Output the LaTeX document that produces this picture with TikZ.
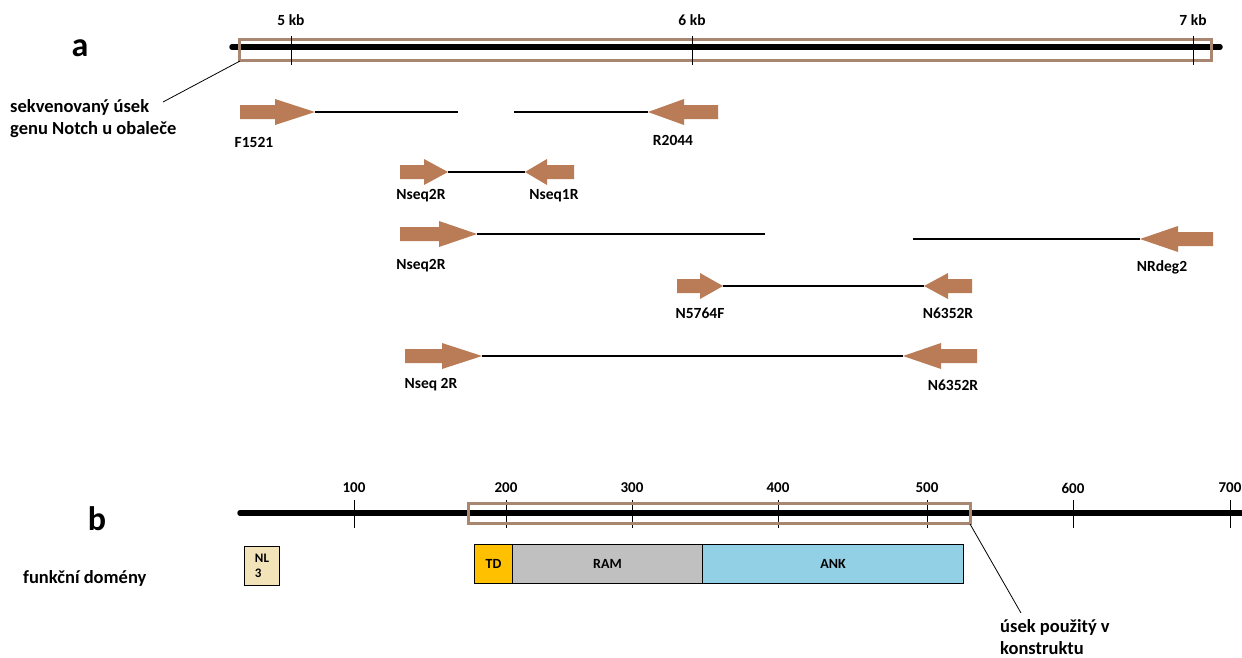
\documentclass[tikz,border=0pt]{standalone}
\usepackage{fontspec}
\setmainfont{Carlito}
\definecolor{primer}{RGB}{185,124,86}
\definecolor{frame}{RGB}{168,134,112}
\definecolor{nlfill}{RGB}{242,228,184}
\definecolor{tdfill}{RGB}{255,192,0}
\definecolor{ramfill}{RGB}{192,192,192}
\definecolor{ankfill}{RGB}{146,208,230}
\newcommand\primR[5]{%
  \fill[primer] (#2,#4-7) -- (#3-#5,#4-7) -- (#3-#5,#4-13) -- (#3,#4) -- (#3-#5,#4+13) -- (#3-#5,#4+7) -- (#2,#4+7) -- cycle;
  \coordinate (#1) at (#3,#4);}
\newcommand\primL[5]{%
  \fill[primer] (#3,#4-7) -- (#2+#5,#4-7) -- (#2+#5,#4-13) -- (#2,#4) -- (#2+#5,#4+13) -- (#2+#5,#4+7) -- (#3,#4+7) -- cycle;
  \coordinate (#1) at (#2,#4);}
\tikzset{
  lbl/.style={font=\bfseries\fontsize{15.5}{18}\selectfont, inner sep=0pt},
  small/.style={font=\bfseries\fontsize{15}{17}\selectfont, inner sep=0pt},
  big/.style={font=\bfseries\fontsize{18.5}{22}\selectfont, inner sep=0pt, align=left, anchor=west},
  panel/.style={font=\bfseries\fontsize{34}{36}\selectfont, inner sep=0pt},
  axis/.style={line width=5.5pt, line cap=round},
  tick/.style={line width=1pt},
  frm/.style={draw=frame, line width=3pt},
  amp/.style={line width=1.2pt},
  callout/.style={line width=0.8pt},
  dom/.style={draw=black, line width=1pt, minimum height=39pt, inner sep=0pt, anchor=north west, font=\bfseries\fontsize{14}{16}\selectfont}
}
\begin{document}
\begin{tikzpicture}[x=1pt,y=-1pt]
\useasboundingbox[fill=white] (0,0) rectangle (1242,657);
% ---------- panel a ----------
\node[panel] (pa) at (80,48) {a};
\draw[axis] (232,47) -- (1220,47);
\draw[frm] (239,39) rectangle (1211,60);
\coordinate (fa) at (240,61);
\foreach \x/\t in {291/5 kb,692/6 kb,1193/7 kb}{
  \draw[tick] (\x,36) -- (\x,65);
  \node[lbl] at (\x,20) {\t};
}
\node[big] (seq) at (10,119) {sekvenovaný úsek\\genu Notch u obaleče};
\coordinate (seqc) at (163,102);
\draw[callout] (fa) -- (seqc);
% row 1
\primR{f1521}{240}{315}{112}{40}
\coordinate (g1) at (458,112);
\coordinate (g2) at (514,112);
\primL{r2044}{648}{718}{112}{36}
\draw[amp] (f1521) -- (g1);
\draw[amp] (g2) -- (r2044);
\node[lbl] (lf1521) at (254,142) {F1521};
\node[lbl] (lr2044) at (673,140) {R2044};
% row 2
\primR{ns2a}{400}{448}{172}{24}
\primL{ns1}{525}{574}{172}{22}
\draw[amp] (ns2a) -- (ns1);
\node[lbl] (lns2a) at (421,196) {Nseq2R};
\node[lbl] (lns1) at (554,196) {Nseq1R};
% row 3
\primR{ns2b}{400}{477}{234}{38}
\coordinate (g3) at (765,234);
\coordinate (g4) at (913,239);
\primL{nrd}{1140}{1213}{239}{38}
\draw[amp] (ns2b) -- (g3);
\draw[amp] (g4) -- (nrd);
\node[lbl] (lns2b) at (421,266) {Nseq2R};
\node[lbl] (lnrd) at (1162,267) {NRdeg2};
% row 4
\primR{n5764}{677}{723}{286}{23}
\primL{n6352a}{924}{972}{286}{24}
\draw[amp] (n5764) -- (n6352a);
\node[lbl] (ln5764) at (700,313) {N5764F};
\node[lbl] (ln6352a) at (948,313) {N6352R};
% row 5
\primR{ns2c}{405}{482}{356}{40}
\primL{n6352b}{903}{977}{356}{38}
\draw[amp] (ns2c) -- (n6352b);
\node[lbl] (lns2c) at (431,385) {Nseq 2R};
\node[lbl] (ln6352b) at (953,385) {N6352R};
% ---------- panel b ----------
\node[panel] (pb) at (97,519) {b};
\draw[axis] (240,513) -- (1250,513);
\foreach \x/\t in {354/100,506/200,632/300,778/400,927/500,1073/600,1230/700}{
  \draw[tick] (\x,500) -- (\x,528);
  \node[small] at (\x,488) {\t};
}
\draw[frm] (468,503) rectangle (970,523);
\coordinate (fb) at (970,524);
\node[big] (used) at (1000,637) {úsek použitý v\\konstruktu};
\coordinate (usedc) at (1021,613);
\draw[callout] (fb) -- (usedc);
\node[big] (fd) at (23,578) {funkční domény};
\node[dom, fill=nlfill, minimum width=35pt, align=left, font=\bfseries\fontsize{13}{15}\selectfont, inner xsep=3pt] (nl) at (244,546) {NL\\3};
\node[dom, fill=tdfill, minimum width=38pt] (td) at (474,544) {TD};
\node[dom, fill=ramfill, minimum width=190pt] (ram) at (512,544) {RAM};
\node[dom, fill=ankfill, minimum width=261pt] (ank) at (702,544) {ANK};
\end{tikzpicture}
\end{document}
